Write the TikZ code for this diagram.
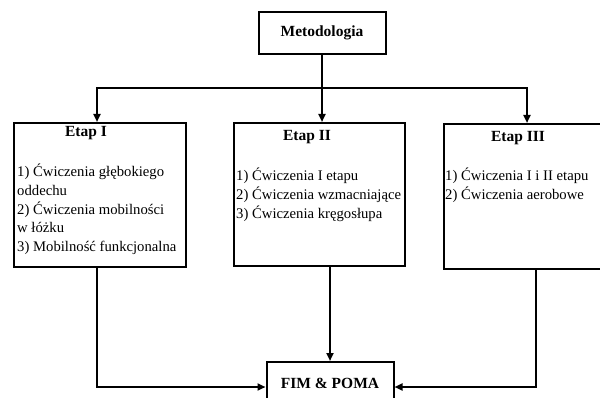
\documentclass[tikz,border=0pt]{standalone}
\usepackage{fontspec}
\setmainfont{Liberation Serif}
\usetikzlibrary{arrows.meta}
\begin{document}
\begin{tikzpicture}[x=1pt,y=-1pt,
  box/.style={draw, line width=2pt, inner sep=0pt},
  ttl/.style={font=\bfseries\fontsize{15.5}{18}\selectfont, inner sep=0pt},
  lst/.style={font=\fontsize{14.7}{18.6}\selectfont, align=left, inner sep=0pt, anchor=north west},
  conn/.style={line width=2pt},
  arr/.style={conn, -{Triangle[length=8pt,width=7pt]}}]
\clip (0,0) rectangle (600,398);
\fill[white] (0,0) rectangle (600,398);
\node[box, minimum width=127pt, minimum height=42pt, font=\bfseries\fontsize{15.5}{18}\selectfont] (meto) at (322,33) {Metodologia};
\node[box, minimum width=172pt, minimum height=144pt] (e1) at (100,195) {};
\node[box, minimum width=171pt, minimum height=143pt] (e2) at (319.5,194.5) {};
\node[box, minimum width=172pt, minimum height=145pt] (e3) at (530,196.5) {};
\node[box, minimum width=127pt, minimum height=42pt, font=\bfseries\fontsize{15.5}{18}\selectfont] (fim) at (330,383) {FIM \& POMA};
\node[ttl] (t1) at (86,133) {Etap I};
\node[ttl] (t2) at (307,137) {Etap II};
\node[ttl] (t3) at (518,138) {Etap III};
\node[lst] (l1) at (17,164) {1) Ćwiczenia głębokiego\\oddechu\\2) Ćwiczenia mobilności\\w łóżku\\3) Mobilność funkcjonalna};
\node[lst] (l2) at (236,168) {1) Ćwiczenia I etapu\\2) Ćwiczenia wzmacniające\\3) Ćwiczenia kręgosłupa};
\node[lst] (l3) at (445,168) {1) Ćwiczenia I i II etapu\\2) Ćwiczenia aerobowe};
\coordinate (j) at (322,88);
\draw[conn] (meto.south) -- (j);
\draw[arr] (j) -| ([xshift=-3pt]e1.north);
\draw[arr] (j) -| ([xshift=-3pt]e3.north);
\draw[arr] (j) -- (j |- e2.north);
\draw[arr] ([xshift=-3pt]e1.south) |- ([yshift=-4pt]fim.west);
\draw[arr] (e2.south -| fim.north) -- (fim.north);
\draw[arr] ([xshift=6pt]e3.south) |- ([yshift=-4pt]fim.east);
\end{tikzpicture}
\end{document}
